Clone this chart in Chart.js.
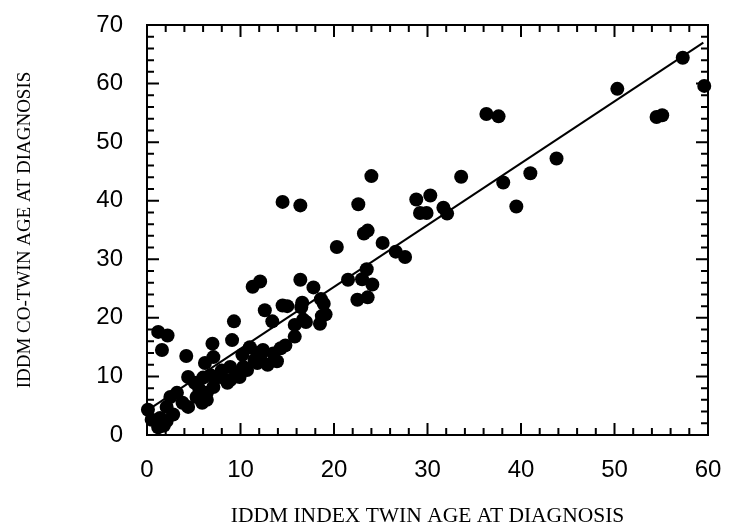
<!DOCTYPE html>
<html>
<head>
<meta charset="utf-8">
<style>
  html, body { margin: 0; padding: 0; background: #fff; }
</style>
</head>
<body>
<canvas id="twinChart" width="729" height="530"></canvas>

<script src="https://cdn.jsdelivr.net/npm/chart.js"></script>
<script>
// index twin age at diagnosis (x) and co-twin age at diagnosis (y)
const indexAge = [
  57.3, 59.6, 50.3, 54.5, 55.1, 36.3, 37.6, 43.8, 41.0, 38.1,
  39.5, 33.6, 28.8, 30.3, 29.2, 29.9, 31.7, 32.1, 27.6, 26.6,
  25.2, 24.0, 22.6, 23.2, 23.6, 20.3, 14.5, 16.4, 16.4, 21.5,
  23.0, 23.5, 24.1, 22.5, 23.6, 11.3, 12.1, 17.8, 18.6, 18.9,
  16.6, 14.5, 15.0, 12.6, 13.4, 16.7, 18.5, 19.1, 15.8, 9.3,
  1.2, 2.2, 1.6, 4.2, 7.0, 9.1, 14.3, 13.5, 11.0, 11.8,
  10.3, 8.9, 12.4, 6.2, 7.1, 8.9, 9.9, 4.4, 5.1, 4.4,
  5.3, 6.4, 3.2, 2.5, 2.1, 0.1, 1.4, 1.2, 2.1, 0.5,
  7.8, 7.1, 6.4, 5.9, 8.6, 9.6, 10.7, 12.1, 12.9, 13.9,
  11.5, 16.5, 15.8, 17.0, 18.7, 8.0, 6.8, 5.6, 3.8, 2.8,
  1.8, 10.2, 11.8, 14.8, 6.0
];
const coTwinAge = [
  64.4, 59.6, 59.1, 54.3, 54.6, 54.8, 54.4, 47.2, 44.7, 43.1,
  39.0, 44.1, 40.2, 40.9, 37.9, 37.9, 38.8, 37.8, 30.4, 31.3,
  32.8, 44.2, 39.4, 34.4, 34.9, 32.1, 39.8, 39.2, 26.5, 26.5,
  26.6, 28.3, 25.7, 23.1, 23.5, 25.3, 26.2, 25.2, 23.2, 22.4,
  22.6, 22.1, 22.0, 21.3, 19.4, 19.7, 19.0, 20.6, 16.8, 19.4,
  17.6, 17.0, 14.5, 13.5, 15.6, 16.2, 14.8, 13.9, 15.0, 12.3,
  11.6, 9.4, 14.5, 12.3, 13.3, 11.6, 9.9, 9.9, 8.9, 4.8,
  6.5, 6.0, 7.2, 6.5, 4.8, 4.3, 2.9, 1.3, 2.4, 2.6,
  9.9, 8.2, 7.2, 5.5, 8.9, 10.6, 11.1, 13.3, 12.0, 12.6,
  12.8, 21.8, 18.8, 19.3, 20.3, 11.0, 10.2, 7.8, 5.5, 3.5,
  1.6, 13.7, 14.0, 15.3, 9.8
];

// fitted regression line
const fitX = [0.6, 59.5];
const fitY = [4.8, 67.0];

const xTickValues = [0, 10, 20, 30, 40, 50, 60];
const yTickValues = [0, 10, 20, 30, 40, 50, 60, 70];

const points = indexAge.map((v, i) => ({ x: v, y: coTwinAge[i] }));
const fitLine = fitX.map((v, i) => ({ x: v, y: fitY[i] }));

// frame plus inward ticks on all four sides, minor every 2
const frameTicks = {
  id: 'frameTicks',
  beforeDatasetsDraw(chart) {
    const { ctx, chartArea: a, scales: { x, y } } = chart;
    ctx.save();
    ctx.strokeStyle = '#000';
    ctx.lineWidth = 2;
    ctx.strokeRect(a.left, a.top, a.right - a.left, a.bottom - a.top);
    ctx.beginPath();
    for (let v = 0; v <= 60; v += 2) {
      const px = x.getPixelForValue(v);
      const len = xTickValues.includes(v) ? 12 : 7;
      ctx.moveTo(px, a.bottom); ctx.lineTo(px, a.bottom - len);
      ctx.moveTo(px, a.top); ctx.lineTo(px, a.top + len);
    }
    for (let v = 0; v <= 70; v += 2) {
      const py = y.getPixelForValue(v);
      const len = yTickValues.includes(v) ? 12 : 7;
      ctx.moveTo(a.left, py); ctx.lineTo(a.left + len, py);
      ctx.moveTo(a.right, py); ctx.lineTo(a.right - len, py);
    }
    ctx.stroke();
    ctx.restore();
  }
};

new Chart(document.getElementById('twinChart'), {
  type: 'scatter',
  data: {
    datasets: [
      {
        data: points,
        backgroundColor: '#000',
        borderColor: '#000',
        borderWidth: 0,
        pointRadius: 7,
        clip: false
      },
      {
        type: 'line',
        data: fitLine,
        borderColor: '#000',
        borderWidth: 2,
        pointRadius: 0,
        fill: false
      }
    ]
  },
  options: {
    responsive: false,
    animation: false,
    events: [],
    layout: { padding: { top: 25, right: 21, left: 0, bottom: 0 } },
    plugins: { legend: { display: false }, tooltip: { enabled: false } },
    scales: {
      x: {
        type: 'linear',
        min: 0,
        max: 60,
        afterFit(scale) {
          scale.height = 95;
          scale.paddingLeft = 0;
          scale.paddingRight = 0;
        },
        afterBuildTicks(scale) { scale.ticks = xTickValues.map(v => ({ value: v })); },
        grid: { display: false },
        border: { display: false },
        ticks: {
          color: '#000',
          padding: 13,
          font: { family: 'Liberation Sans, Arial, sans-serif', size: 24 }
        },
        title: {
          display: true,
          text: 'IDDM INDEX TWIN AGE AT DIAGNOSIS',
          color: '#000',
          padding: { top: 0, bottom: 1 },
          font: { family: 'Liberation Serif, Times New Roman, serif', size: 21.5 }
        }
      },
      y: {
        type: 'linear',
        min: 0,
        max: 70,
        afterFit(scale) {
          scale.width = 147;
          scale.paddingTop = 0;
          scale.paddingBottom = 0;
        },
        afterBuildTicks(scale) { scale.ticks = yTickValues.map(v => ({ value: v })); },
        grid: { display: false },
        border: { display: false },
        ticks: {
          color: '#000',
          padding: 16,
          font: { family: 'Liberation Sans, Arial, sans-serif', size: 24 }
        },
        title: {
          display: true,
          text: 'IDDM CO-TWIN AGE AT DIAGNOSIS',
          color: '#000',
          padding: { top: 14, bottom: 0 },
          font: { family: 'Liberation Serif, Times New Roman, serif', size: 19 }
        }
      }
    }
  },
  plugins: [frameTicks]
});
</script>
</body>
</html>
